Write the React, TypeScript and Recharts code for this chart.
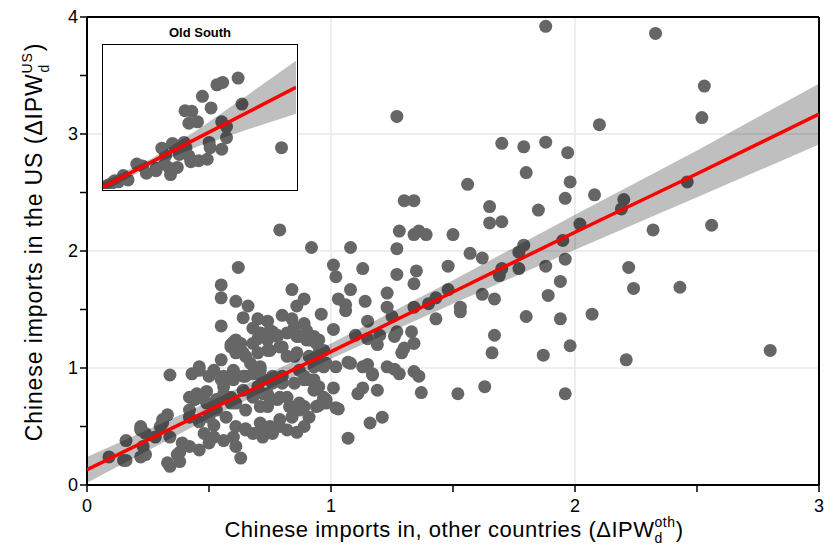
import React from 'react'
import {
  ComposedChart,
  Scatter,
  Area,
  Line,
  XAxis,
  YAxis,
  CartesianGrid,
  ReferenceLine,
} from 'recharts'

// regression fit (main panel): x, fitted value, confidence band
const fitX = [0, 0.5, 1, 1.5, 2, 2.5, 3]
const fitY = [0.13, 0.64, 1.14, 1.65, 2.16, 2.66, 3.17]
const bandLow = [0.02, 0.57, 1.08, 1.55, 2.01, 2.46, 2.91]
const bandHigh = [0.24, 0.71, 1.21, 1.75, 2.31, 2.86, 3.43]

const xTicks = [0, 0.5, 1, 1.5, 2, 2.5, 3]
const yTicks = [0, 0.5, 1, 1.5, 2, 2.5, 3, 3.5, 4]

// commuting zones: [imports other countries, imports US]
const zones: [number, number][] = [
  [1.88, 3.92], [2.33, 3.86], [1.27, 3.15], [2.53, 3.41], [2.52, 3.14], [2.1, 3.08],
  [1.7, 2.92], [1.79, 2.89], [1.88, 2.93], [1.97, 2.84], [1.8, 2.67], [1.98, 2.59],
  [1.56, 2.57], [2.08, 2.48], [1.96, 2.45], [1.3, 2.43], [1.34, 2.43],
  [2.46, 2.59], [2.2, 2.44], [2.19, 2.36], [2.32, 2.18], [2.56, 2.22], [2.22, 1.86],
  [2.24, 1.68], [2.43, 1.69], [2.21, 1.07], [2.8, 1.15],
  [1.65, 2.38], [1.65, 2.24], [1.7, 2.25], [1.85, 2.35], [2.02, 2.23], [1.95, 2.09],
  [1.79, 2.05], [1.77, 1.99], [1.57, 1.98], [1.62, 1.94], [1.7, 1.85], [1.69, 1.79],
  [1.77, 1.85], [1.88, 1.87], [1.96, 1.93], [1.94, 1.74], [1.62, 1.63], [1.67, 1.59],
  [1.89, 1.62], [1.8, 1.44], [1.94, 1.42], [2.07, 1.46], [1.67, 1.28], [1.66, 1.13],
  [1.87, 1.11], [1.98, 1.19], [1.63, 0.84], [1.96, 0.78],
  [1.28, 2.17], [1.34, 2.14], [1.36, 2.17], [1.39, 2.14], [1.5, 2.14], [0.92, 2.03],
  [1.08, 2.03], [1.27, 2.02], [1.01, 1.88], [1.02, 1.78], [1.13, 1.85], [1.27, 1.8],
  [1.35, 1.83], [1.34, 1.72], [1.48, 1.87], [1.08, 1.67], [0.89, 1.59], [1.03, 1.59],
  [1.06, 1.54], [1.06, 1.49], [1.14, 1.57], [1.23, 1.64], [1.23, 1.52], [0.96, 1.46],
  [1.34, 1.52], [1.4, 1.55], [1.43, 1.6], [1.48, 1.67], [1.53, 1.52], [1.53, 1.48],
  [1.43, 1.42],
  [0.89, 1.38], [1.01, 1.33], [1.15, 1.4], [1.25, 1.44], [1.1, 1.28], [1.15, 1.25],
  [1.2, 1.28], [1.19, 1.2], [1.27, 1.31], [1.26, 1.27], [1.33, 1.31], [1.34, 1.21],
  [1.3, 1.17], [1.29, 1.13], [1.07, 1.05], [1.15, 1.03], [1.17, 0.94], [1.23, 1.01],
  [1.26, 0.99], [1.28, 0.95], [1.34, 0.97], [1.36, 0.93], [1.01, 0.83], [1.11, 0.78],
  [1.13, 0.83], [1.19, 0.81], [1.37, 0.79], [1.52, 0.78], [0.95, 0.68], [0.98, 0.73],
  [1.03, 0.65], [1.21, 0.58], [1.16, 0.53], [0.89, 0.67], [0.89, 0.5], [1.07, 0.4],
  [0.79, 2.18], [0.62, 1.86], [0.55, 1.71], [0.84, 1.67], [0.86, 1.53], [0.55, 1.6],
  [0.61, 1.57], [0.66, 1.53], [0.7, 1.42], [0.55, 1.36], [0.78, 1.28], [0.61, 1.24],
  [0.59, 1.2], [0.7, 1.25], [0.55, 1.07], [0.87, 1.27], [0.91, 1.24], [0.95, 1.24],
  [1.08, 1.04], [1.13, 1.01], [1.17, 0.95], [1.02, 1.01], [0.43, 0.95], [0.46, 1.01],
  [0.94, 0.67], [0.98, 0.7], [1.02, 0.66], [0.87, 0.67],
  [0.74, 1.4], [0.8, 1.45], [0.84, 1.42], [0.64, 1.43], [0.68, 1.34],
  [0.34, 0.94], [0.46, 0.98], [0.6, 1.22], [0.63, 1.21], [0.61, 1.13], [0.5, 0.93],
  [0.55, 0.9], [0.45, 0.78], [0.49, 0.8], [0.44, 0.73], [0.42, 0.64], [0.49, 0.7],
  [0.52, 0.64], [0.46, 0.54], [0.5, 0.58], [0.52, 0.51], [0.48, 0.44], [0.5, 0.36],
  [0.42, 0.33], [0.38, 0.28], [0.33, 0.19], [0.37, 0.26], [0.63, 0.23], [0.31, 0.56],
  [0.33, 0.6], [0.3, 0.5], [0.28, 0.41], [0.22, 0.5], [0.24, 0.44], [0.23, 0.33],
  [0.22, 0.24], [0.16, 0.38], [0.16, 0.21], [0.09, 0.24], [0.6, 0.41], [0.61, 0.33],
  [0.65, 0.48], [0.68, 0.44], [0.72, 0.5], [0.76, 0.44], [0.68, 0.75], [0.72, 0.78],
  [0.76, 0.87], [0.74, 0.67], [0.65, 0.93], [0.71, 1.01], [0.56, 0.78], [0.59, 0.7],
  [0.68, 1.21], [0.74, 1.24], [0.76, 1.31], [0.71, 1.3],
  [0.64, 1.13], [0.67, 1.04], [0.75, 1.15], [0.78, 1.27], [0.8, 1.18], [0.86, 1.27],
  [0.9, 1.24], [0.94, 1.21], [0.97, 1.15], [0.85, 1.1], [0.87, 0.98], [0.91, 0.9],
  [0.97, 0.73], [0.46, 0.75], [0.42, 0.58], [0.53, 0.64], [0.57, 0.58], [0.61, 0.5],
  [0.65, 0.47], [0.71, 0.47], [0.75, 0.5], [0.79, 0.56], [0.83, 0.67], [0.87, 0.7],
  [0.59, 0.75], [0.64, 0.81], [0.7, 0.84], [0.74, 0.78], [0.78, 0.73], [0.82, 0.75],
  [0.8, 0.87], [0.76, 0.93], [0.71, 0.98], [0.6, 0.9], [0.56, 0.84],
  [0.34, 0.41], [0.39, 0.36], [0.46, 0.3], [0.52, 0.41], [0.56, 0.38], [0.71, 0.53],
  [0.72, 0.41], [0.79, 0.5], [0.82, 0.47], [0.89, 0.9], [0.93, 0.81], [0.97, 0.75],
  [0.97, 1.01], [0.94, 1.07],
  [0.59, 1.18], [0.63, 1.15], [0.65, 1.1], [0.7, 1.13], [0.74, 1.15], [0.79, 1.18],
  [0.82, 1.1], [0.86, 1.13], [0.91, 1.1], [0.95, 1.13], [0.98, 1.04], [0.93, 1.01],
  [0.72, 1.27], [0.75, 1.32], [0.82, 1.3], [0.85, 1.35], [0.9, 1.32], [0.93, 1.27],
  [0.52, 0.98], [0.56, 0.93], [0.6, 0.98], [0.64, 0.93], [0.68, 0.95], [0.72, 0.9],
  [0.8, 0.93], [0.85, 0.87], [0.89, 0.93], [0.93, 0.9], [0.95, 0.84],
  [0.42, 0.75], [0.53, 0.73], [0.57, 0.75], [0.61, 0.7], [0.65, 0.64], [0.71, 0.67],
  [0.75, 0.73], [0.79, 0.75], [0.87, 0.64], [0.91, 0.58],
  [0.31, 0.53], [0.34, 0.16], [0.38, 0.2], [0.22, 0.47], [0.24, 0.26], [0.15, 0.21],
  [0.86, 0.45], [0.84, 0.58],
]

// inset "Old South"
const insetFitX = [0, 0.5, 1, 1.5, 2]
const insetFitY = [0.04, 0.56, 1.08, 1.6, 2.12]
const insetLow = [-0.06, 0.49, 0.9, 1.24, 1.57]
const insetHigh = [0.14, 0.63, 1.26, 1.96, 2.67]

const oldSouth: [number, number][] = [
  [1.4, 2.31], [1.18, 2.17], [1.24, 2.22], [1.03, 1.93], [1.12, 1.69], [0.85, 1.63],
  [0.92, 1.62], [0.89, 1.37], [0.98, 1.4], [1.44, 1.77], [1.23, 1.4], [1.28, 1.3],
  [1.28, 1.07], [1.1, 0.97], [1.11, 0.86], [1.23, 0.83], [1.85, 0.86], [0.72, 0.95],
  [0.61, 0.85], [0.79, 0.83], [0.86, 0.86], [0.89, 0.69], [0.91, 0.57], [0.99, 0.59],
  [1.08, 0.62], [0.77, 0.45], [0.7, 0.3], [0.69, 0.43], [0.55, 0.43], [0.45, 0.33],
  [0.35, 0.52], [0.41, 0.48], [0.64, 0.52], [0.21, 0.28], [0.26, 0.19], [0.12, 0.17],
  [0.09, 0.12], [0.16, 0.15], [0.05, 0.08], [0.55, 0.38], [0.79, 0.72], [0.65, 0.7],
  [0.74, 0.9], [0.84, 0.97],
]

const FONT = '"Liberation Sans", Arial, Helvetica, sans-serif'
const DOT = '#666666'

const fitData = fitX.map((x, i) => ({ x, fit: fitY[i], band: [bandLow[i], bandHigh[i]] }))
const insetData = insetFitX.map((x, i) => ({ x, fit: insetFitY[i], band: [insetLow[i], insetHigh[i]] }))
const zoneData = zones.map(([x, y]) => ({ x, y }))
const southData = oldSouth.map(([x, y]) => ({ x, y }))

const Dot = (props: any) => <circle cx={props.cx} cy={props.cy} r={6.5} fill={DOT} />

const intLabel = (v: number) => (Number.isInteger(v) ? String(v) : '')

export default function App() {
  return (
    <div style={{ position: 'absolute', left: 0, top: 0, width: 827, height: 546, background: '#fff', fontFamily: FONT }}>
      <ComposedChart width={827} height={546} data={fitData} margin={{ top: 17, right: 8, bottom: 0, left: 0 }}>
        <CartesianGrid stroke="#e8e8e8" strokeWidth={1.5} horizontalValues={[1, 2, 3]} verticalValues={[1, 2]} />
        <XAxis
          type="number"
          dataKey="x"
          domain={[0, 3]}
          ticks={xTicks}
          tickFormatter={intLabel}
          height={61}
          tickSize={7}
          tickMargin={7}
          axisLine={{ stroke: '#000', strokeWidth: 2 }}
          tickLine={{ stroke: '#000', strokeWidth: 1.5 }}
          tick={{ fill: '#000', fontSize: 18, fontFamily: FONT }}
          allowDataOverflow
        />
        <YAxis
          type="number"
          domain={[0, 4]}
          ticks={yTicks}
          tickFormatter={intLabel}
          width={87}
          tickSize={7}
          tickMargin={2}
          axisLine={{ stroke: '#000', strokeWidth: 2 }}
          tickLine={{ stroke: '#000', strokeWidth: 1.5 }}
          tick={{ fill: '#000', fontSize: 18, fontFamily: FONT }}
          allowDataOverflow
        />
        <ReferenceLine y={4} stroke="#000" strokeWidth={2} />
        <ReferenceLine x={3} stroke="#000" strokeWidth={2} />
        <Scatter data={zoneData} dataKey="y" shape={Dot} isAnimationActive={false} />
        <Area dataKey="band" stroke="none" fill="#000" fillOpacity={0.25} isAnimationActive={false} zIndex={650} />
        <Line dataKey="fit" stroke="#ff0000" strokeWidth={3.5} dot={false} isAnimationActive={false} zIndex={700} />
      </ComposedChart>

      <div
        style={{
          position: 'absolute',
          left: 102,
          top: 44,
          width: 196,
          height: 147,
          boxSizing: 'border-box',
          border: '1.5px solid #000',
          background: '#fff',
          overflow: 'hidden',
        }}
      >
        <ComposedChart width={193} height={144} data={insetData} margin={{ top: 0, right: 0, bottom: 0, left: 0 }}>
          <XAxis type="number" dataKey="x" domain={[0, 2]} hide allowDataOverflow />
          <YAxis type="number" domain={[0, 3]} hide allowDataOverflow />
          <Scatter data={southData} dataKey="y" shape={Dot} isAnimationActive={false} />
          <Area dataKey="band" stroke="none" fill="#000" fillOpacity={0.25} isAnimationActive={false} zIndex={650} />
          <Line dataKey="fit" stroke="#ff0000" strokeWidth={3.5} dot={false} isAnimationActive={false} zIndex={700} />
        </ComposedChart>
      </div>

      <svg width={827} height={546} style={{ position: 'absolute', left: 0, top: 0, pointerEvents: 'none' }}>
        <text x={200} y={37} textAnchor="middle" fontSize={13} fontWeight="bold" fontFamily={FONT} fill="#000">
          Old South
        </text>
        <text x={454} y={537} textAnchor="middle" fontSize={22} letterSpacing={0.5} fontFamily={FONT} fill="#000">
          <tspan>Chinese imports in, other countries (ΔIPW</tspan>
          <tspan fontSize={14} dy={-10}>oth</tspan>
          <tspan fontSize={14} dx={-21} dy={16}>d</tspan>
          <tspan dx={13} dy={-6}>)</tspan>
        </text>
        <text
          x={42}
          y={242}
          textAnchor="middle"
          fontSize={23}
          letterSpacing={0.9}
          fontFamily={FONT}
          fill="#000"
          transform="rotate(-90 42 242)"
        >
          <tspan>Chinese imports in the US (ΔIPW</tspan>
          <tspan fontSize={14} dy={-10}>US</tspan>
          <tspan fontSize={14} dx={-20.4} dy={17}>d</tspan>
          <tspan dx={12.6} dy={-7}>)</tspan>
        </text>
      </svg>
    </div>
  )
}
